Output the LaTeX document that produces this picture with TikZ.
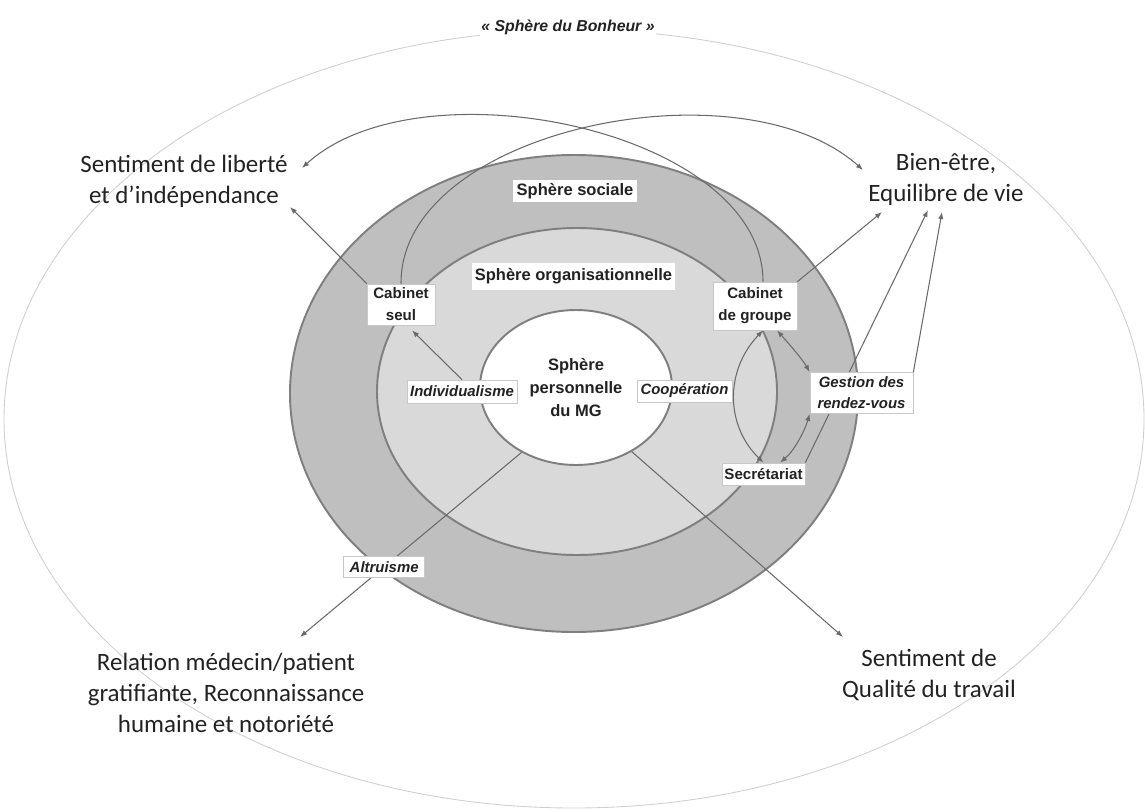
\documentclass[tikz,border=0pt]{standalone}
\usepackage{fontspec}
\setmainfont{Liberation Sans}
\newfontfamily\handfont{Carlito}
\usetikzlibrary{arrows.meta,shapes.geometric}
\definecolor{sphereline}{HTML}{7F7F7F}
\definecolor{socialfill}{HTML}{BFBFBF}
\definecolor{orgfill}{HTML}{D9D9D9}
\definecolor{linkgray}{HTML}{6A6A6A}
\definecolor{boxline}{HTML}{C8C8C8}
\definecolor{outerline}{HTML}{CFCFCF}
\definecolor{ink}{HTML}{222222}
\tikzset{
  sphere/.style={draw=sphereline,line width=1.1pt},
  lbl/.style={fill=white,draw=boxline,line width=0.4pt,inner sep=0pt,align=center,text=ink,
    font=\fontsize{8.6}{12.5}\selectfont\bfseries},
  ilbl/.style={lbl,font=\fontsize{8.5}{12}\selectfont\bfseries\itshape},
  biglbl/.style={lbl,draw=none,font=\fontsize{9.4}{12}\selectfont\bfseries},
  hand/.style={align=center,inner sep=0pt,text=ink,font=\fontsize{14.2}{17.6}\selectfont\handfont},
  link/.style={draw=linkgray,line width=0.6pt,-{Latex[length=4pt,width=3pt]}},
  twoway/.style={draw=linkgray,line width=0.6pt,{Latex[length=4pt,width=3pt]}-{Latex[length=4pt,width=3pt]}}
}
\begin{document}
\begin{tikzpicture}[x=0.2mm,y=-0.2mm]
\useasboundingbox (0,0) rectangle (1145,811);
\draw[outerline,line width=0.5pt] (574,419) ellipse [x radius=570, y radius=389];
\node[fill=white,inner sep=1pt,text=ink,font=\fontsize{9}{11}\selectfont\bfseries\itshape] (bonheur) at (568,27) {« Sphère du Bonheur »};
\filldraw[sphere,fill=socialfill] (574,393.5) ellipse [x radius=284, y radius=238.5];
\filldraw[sphere,fill=orgfill] (577,391.5) ellipse [x radius=200, y radius=163.5];
\node[ellipse,sphere,fill=white,minimum width=38.4mm,minimum height=31mm,inner sep=0pt,align=center,text=ink,
  font=\fontsize{9.4}{13}\selectfont\bfseries] (perso) at (576,387.5) {Sphère\\personnelle\\du MG};
\node[biglbl,minimum width=24.8mm,minimum height=4.4mm] (sociale) at (575,191) {Sphère sociale};
\node[biglbl,minimum width=40.6mm,minimum height=5.4mm] (orga) at (573.5,276.5) {Sphère organisationnelle};
\node[lbl,minimum width=13.6mm,minimum height=8.2mm] (seul) at (401,304.5) {Cabinet\\seul};
\node[lbl,minimum width=16.8mm,minimum height=9.6mm] (groupe) at (755,306) {Cabinet\\de groupe};
\node[ilbl,minimum width=22mm,minimum height=4.6mm] (indiv) at (462,391.5) {Individualisme};
\node[ilbl,minimum width=19mm,minimum height=4.4mm] (coop) at (684.5,391) {Coopération};
\node[lbl,minimum width=16.6mm,minimum height=4.4mm] (secr) at (763.5,474) {Secrétariat};
\node[hand] (liberte) at (184,181.5) {Sentiment de liberté\\et d’indépendance};
\node[hand] (bienetre) at (946,179) {Bien-être,\\Equilibre de vie};
\node[hand] (relation) at (226,692.5) {Relation médecin/patient\\gratifiante, Reconnaissance\\humaine et notoriété};
\node[hand] (qualite) at (929,675) {Sentiment de\\Qualité du travail};
\coordinate (libA) at (290,207);
\coordinate (libB) at (302,168);
\coordinate (bienA) at (863,170);
\coordinate (bienB) at (882,212);
\coordinate (bienC) at (928,210);
\coordinate (bienD) at (942,212);
\coordinate (relA) at (300,637);
\coordinate (qualA) at (843,637);
\draw[link] (seul.north) .. controls (400,130) and (740,60) .. (bienA);
\draw[link] ([xshift=1.6mm]groupe.north) .. controls (763,130) and (420,60) .. (libB);
\draw[link] (seul.north west) -- (libA);
\draw[link] (groupe.north east) -- (bienB);
\draw[link] (indiv.north) -- ([xshift=2.2mm,yshift=-1mm]seul.south);
\draw[link] (perso.230) -- node[ilbl,pos=0.62,minimum width=16.2mm,minimum height=4.2mm] (altru) {Altruisme} (relA);
\draw[link] (perso.311) -- (qualA);
\draw[twoway] ([xshift=1.6mm]groupe.south) .. controls (725,370) and (725,425) .. (secr.north);
\draw[link] (secr.north east) -- (bienC);
\node[ilbl,minimum width=20.6mm,minimum height=8.2mm] (gestion) at (861.5,393) {Gestion des\\rendez-vous};
\draw[link] (gestion.north east) -- (bienD);
\draw[twoway] ([xshift=4.4mm]groupe.south) .. controls (790,345) and (803,360) .. (gestion.north west);
\draw[twoway] (gestion.south west) .. controls (805,430) and (795,450) .. ([xshift=3.3mm]secr.north);
\end{tikzpicture}
\end{document}
